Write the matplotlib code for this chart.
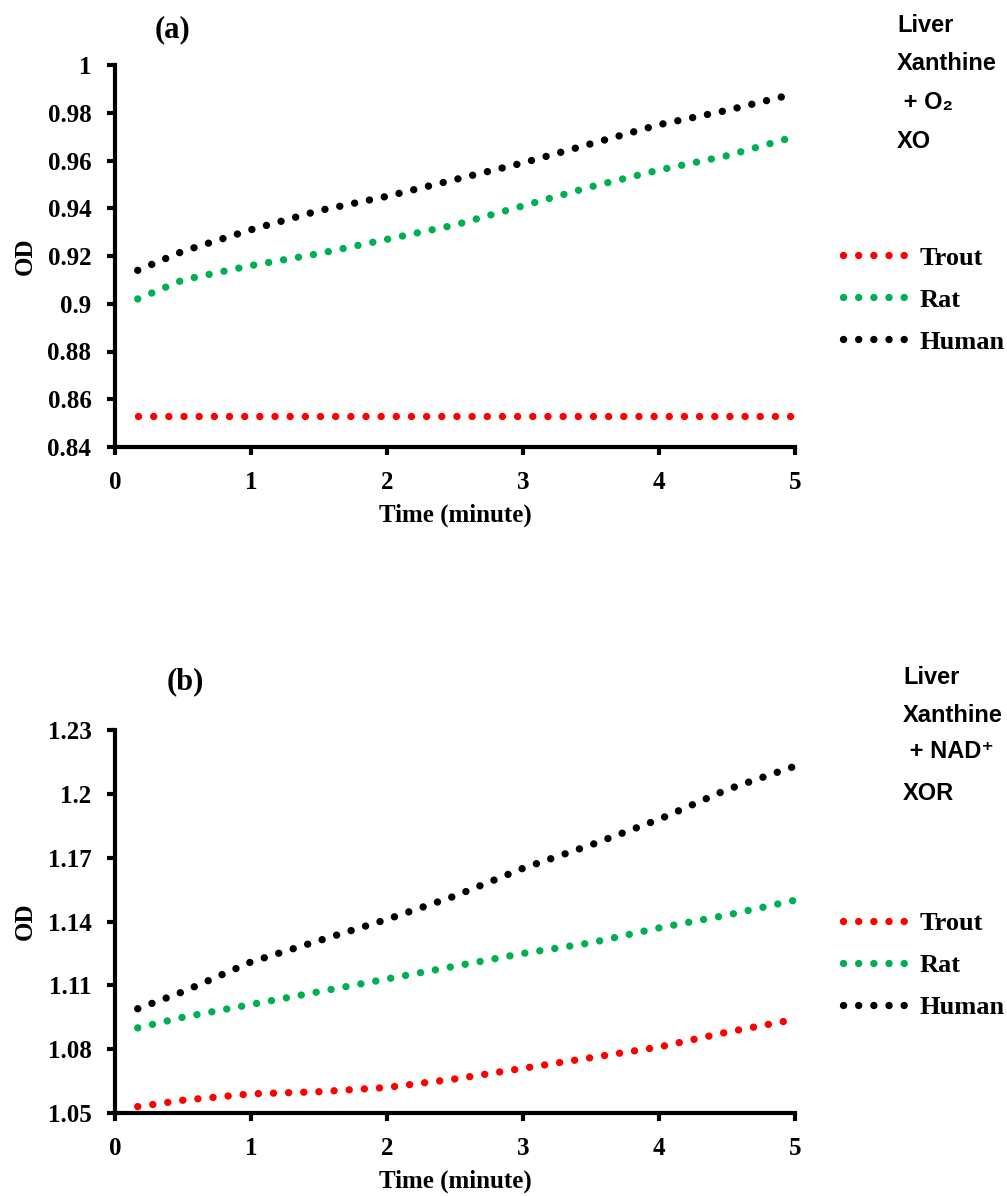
import numpy as np
import matplotlib
matplotlib.use('Agg')
import matplotlib.pyplot as plt

# time in minutes
time_min = [0.167, 0.5, 1.0, 1.5, 2.0, 2.5, 3.0, 3.5, 4.0, 4.5, 5.0]

# (a) Xanthine + O2, XO
trout_a = [0.853, 0.853, 0.853, 0.853, 0.853, 0.853, 0.853, 0.853, 0.853, 0.853, 0.853]
rat_a = [0.902, 0.910, 0.916, 0.921, 0.927, 0.933, 0.941, 0.949, 0.956, 0.962, 0.970]
human_a = [0.914, 0.922, 0.931, 0.939, 0.945, 0.952, 0.959, 0.967, 0.975, 0.981, 0.988]

# (b) Xanthine + NAD+, XOR
trout_b = [1.053, 1.056, 1.059, 1.060, 1.062, 1.066, 1.071, 1.076, 1.081, 1.088, 1.094]
rat_b = [1.090, 1.095, 1.101, 1.107, 1.113, 1.119, 1.125, 1.130, 1.137, 1.143, 1.150]
human_b = [1.099, 1.107, 1.121, 1.131, 1.141, 1.152, 1.165, 1.176, 1.188, 1.202, 1.213]

series_names = ['Trout', 'Rat', 'Human']
series_colors = ['#ff0000', '#00b050', '#000000']

yticks_a = [0.84, 0.86, 0.88, 0.9, 0.92, 0.94, 0.96, 0.98, 1.0]
ytick_labels_a = ['0.84', '0.86', '0.88', '0.9', '0.92', '0.94', '0.96', '0.98', '1']
yticks_b = [1.05, 1.08, 1.11, 1.14, 1.17, 1.2, 1.23]
ytick_labels_b = ['1.05', '1.08', '1.11', '1.14', '1.17', '1.2', '1.23']
xticks = [0, 1, 2, 3, 4, 5]

SERIF = ['Liberation Serif', 'DejaVu Serif']
SANS = ['Liberation Sans', 'DejaVu Sans']

W, H = 1007, 1196
fig = plt.figure(figsize=(W / 100, H / 100), dpi=100)


def setup_axes(rect, data, yticks, ylabels, ylim):
	ax = fig.add_axes(rect)
	for ys, name, c in zip(data, series_names, series_colors):
		ax.plot(time_min, ys, color=c, lw=5.3, ls=(0, (0.01, 2.05)),
			dash_capstyle='round', label=name, clip_on=False)
	ax.set_xlim(0, 5)
	ax.set_ylim(*ylim)
	ax.set_xticks(xticks)
	ax.set_xticklabels([str(x) for x in xticks])
	ax.set_yticks(yticks)
	ax.set_yticklabels(ylabels)
	for s in ['top', 'right']:
		ax.spines[s].set_visible(False)
	for s in ['left', 'bottom']:
		ax.spines[s].set_linewidth(3)
	ax.tick_params(direction='out', length=6, width=3, labelsize=18)
	ax.tick_params(axis='y', pad=11)
	ax.tick_params(axis='x', pad=11)
	for lab in ax.get_xticklabels() + ax.get_yticklabels():
		lab.set_family(SERIF)
		lab.set_fontweight('bold')
	ax.set_xlabel('Time (minute)', family=SERIF, fontweight='bold', fontsize=18, labelpad=7)
	ax.set_ylabel('OD', family=SERIF, fontweight='bold', fontsize=18, labelpad=8)
	ax.legend(loc='center left', bbox_to_anchor=(1.07, 0.385), frameon=False,
		borderpad=0, borderaxespad=0, handlelength=2.6, handletextpad=0.3,
		labelspacing=0.7, prop={'family': SERIF, 'weight': 'bold', 'size': 19})
	return ax


ax_a = setup_axes([115 / W, 1 - 447 / H, 680 / W, 382 / H],
	[trout_a, rat_a, human_a], yticks_a, ytick_labels_a, (0.84, 1.0))
ax_b = setup_axes([115 / W, 1 - 1113 / H, 680 / W, 383 / H],
	[trout_b, rat_b, human_b], yticks_b, ytick_labels_b, (1.05, 1.23))

fig.text(173 / W, 1 - 30 / H, '(a)', family=SERIF, fontweight='bold', fontsize=22,
	ha='center', va='center')
fig.text(185 / W, 1 - 682 / H, '(b)', family=SERIF, fontweight='bold', fontsize=22,
	ha='center', va='center')

notes_a = ['Liver', 'Xanthine', ' + O\u2082', 'XO']
notes_a_y = [25, 63, 102, 142]
notes_b = ['Liver', 'Xanthine', ' + NAD\u207a', 'XOR']
notes_b_y = [677, 715, 752, 793]
for t, y in zip(notes_a, notes_a_y):
	fig.text(897 / W, 1 - y / H, t, family=SANS, fontweight='bold', fontsize=17,
		ha='left', va='center')
for t, y in zip(notes_b, notes_b_y):
	fig.text(903 / W, 1 - y / H, t, family=SANS, fontweight='bold', fontsize=17,
		ha='left', va='center')

fig.savefig('out.png', dpi=100)
